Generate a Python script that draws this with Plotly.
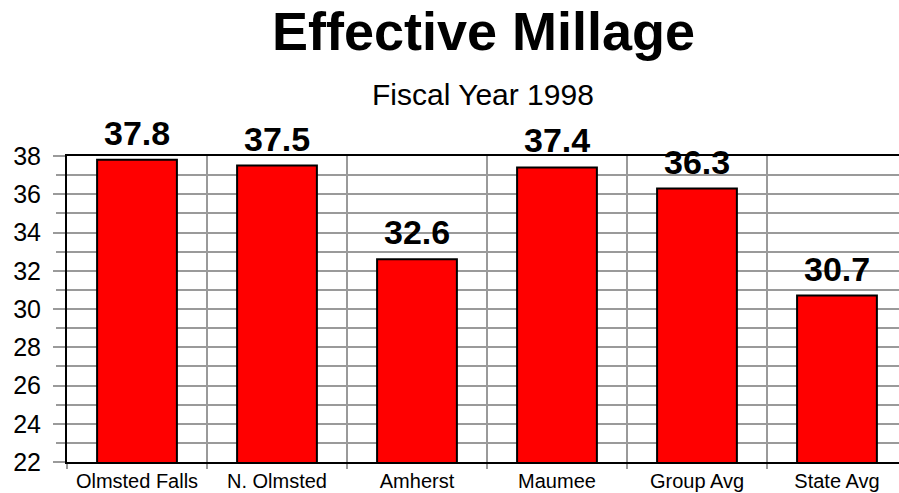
import plotly.graph_objects as go

# Effective millage by district, fiscal year 1998
districts = ["Olmsted Falls", "N. Olmsted", "Amherst", "Maumee", "Group Avg", "State Avg"]
millage = [37.8, 37.5, 32.6, 37.4, 36.3, 30.7]
y_ticks = [22, 24, 26, 28, 30, 32, 34, 36, 38]

FONT = "Arial, Liberation Sans, sans-serif"
GRID = "#9a9a9a"

fig = go.Figure(
    go.Bar(
        x=districts,
        y=millage,
        width=0.57,
        marker=dict(color="#ff0000", line=dict(color="#000000", width=2)),
        hoverinfo="x+y",
    )
)

# value labels sitting above each bar
value_labels = [
    dict(text=f"<b>{v:.1f}</b>", x=d, y=v, xref="x", yref="y",
         xanchor="center", yanchor="bottom", yshift=6, showarrow=False,
         font=dict(family=FONT, size=34, color="#000000"))
    for d, v in zip(districts, millage)
]

fig.update_layout(
    width=899,
    height=493,
    margin=dict(l=67, r=0, t=156, b=31),
    paper_bgcolor="#ffffff",
    plot_bgcolor="#ffffff",
    showlegend=False,
    font=dict(family=FONT, color="#000000"),
    annotations=[
        dict(text="<b>Effective Millage</b>", xref="paper", yref="paper",
             x=0.5, y=1, yshift=125, xanchor="center", yanchor="middle",
             showarrow=False, font=dict(family=FONT, size=54, color="#000000")),
        dict(text="Fiscal Year 1998", xref="paper", yref="paper",
             x=0.5, y=1, yshift=62, xanchor="center", yanchor="middle",
             showarrow=False, font=dict(family=FONT, size=30, color="#000000")),
    ] + value_labels,
)

fig.update_xaxes(
    type="category",
    range=[-0.5, 5.443],
    tickson="boundaries",
    showgrid=True,
    gridcolor=GRID,
    gridwidth=2,
    ticks="outside",
    ticklen=5,
    tickwidth=2,
    tickcolor=GRID,
    showline=True,
    linecolor="#000000",
    linewidth=2,
    mirror=True,
    tickfont=dict(family=FONT, size=20, color="#000000"),
)

fig.update_yaxes(
    range=[22, 38],
    tickvals=y_ticks,
    showgrid=True,
    gridcolor=GRID,
    gridwidth=2,
    zeroline=False,
    ticks="outside",
    ticklen=12,
    tickwidth=2,
    tickcolor=GRID,
    ticklabelstandoff=7,
    showline=True,
    linecolor="#000000",
    linewidth=2,
    tickfont=dict(family=FONT, size=25, color="#000000"),
    minor=dict(dtick=1, tick0=22, showgrid=True, gridcolor=GRID, gridwidth=2,
               ticks="outside", ticklen=9, tickwidth=2, tickcolor=GRID),
)

fig.write_html("out.html")
